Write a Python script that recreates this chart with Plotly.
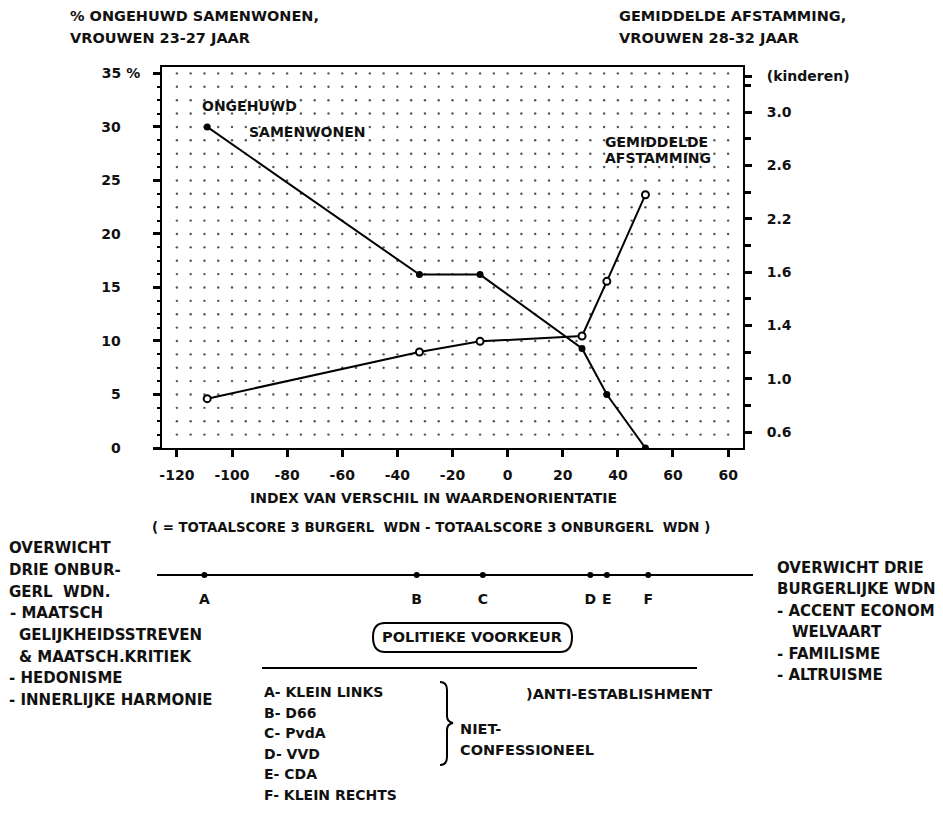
import numpy as np
import plotly.graph_objects as go

# ---------------- data ----------------
x_index = [-109, -32, -10, 27, 36, 50]                 # index van verschil in waardenorientatie
ongehuwd_pct = [30.0, 16.2, 16.2, 9.3, 5.0, 0.0]       # % ongehuwd samenwonen, vrouwen 23-27
afstamming_kind = [0.85, 1.20, 1.28, 1.32, 1.73, 2.38]  # gemiddelde afstamming (kinderen), vrouwen 28-32

party_letters = ["A", "B", "C", "D", "E", "F"]
party_x = [-110, -33, -9, 30, 36, 51]

x_tickvals = [-120, -100, -80, -60, -40, -20, 0, 20, 40, 60, 80]
x_ticktext = ["-120", "-100", "-80", "-60", "-40", "-20", "0", "20", "40", "60", "60"]
left_tickvals = [0, 5, 10, 15, 20, 25, 30, 35]
left_ticktext = ["0", "5", "10", "15", "20", "25", "30", "35 %"]
right_tickvals = [0.6, 1.0, 1.4, 1.8, 2.2, 2.6, 3.0, 3.27]
right_ticktext = ["0.6", "1.0", "1.4", "1.6", "2.2", "2.6", "3.0", "(kinderen)"]

left_block = ["OVERWICHT", "DRIE ONBUR-", "GERL  WDN.", "- MAATSCH", "GELIJKHEIDSSTREVEN",
              "& MAATSCH.KRITIEK", "- HEDONISME", "- INNERLIJKE HARMONIE"]
right_block = ["OVERWICHT DRIE", "BURGERLIJKE WDN", "- ACCENT ECONOM", "WELVAART",
               "- FAMILISME", "- ALTRUISME"]
party_legend = ["A- KLEIN LINKS", "B- D66", "C- PvdA", "D- VVD", "E- CDA", "F- KLEIN RECHTS"]

# ---------------- geometry helpers (page pixel coordinates) ----------------
OFF = 8                      # page body margin
W, H = 943 - 2 * OFF, 813 - 2 * OFF
L, R, T, B = 162, 743, 67, 448
PB = 613                     # page y of paper bottom
def px(x):
    return (x - L) / (R - L)
def py(y):
    return (PB - y) / (PB - T)

FS = dict(family="DejaVu Sans", color="#111", weight="bold")
INK = "#000"

fig = go.Figure()

# dotted background grid
gx, gy = np.meshgrid(np.arange(-120, 81, 5), np.arange(1.25, 35.01, 1.25))
fig.add_trace(go.Scatter(x=gx.ravel(), y=gy.ravel(), mode="markers",
                         marker=dict(size=2.4, color="#555"), hoverinfo="skip",
                         showlegend=False))

fig.add_trace(go.Scatter(x=x_index, y=ongehuwd_pct, mode="lines+markers",
                         line=dict(color=INK, width=2),
                         marker=dict(size=7, color=INK),
                         name="Ongehuwd samenwonen", showlegend=False))
fig.add_trace(go.Scatter(x=x_index, y=afstamming_kind, yaxis="y2", mode="lines+markers",
                         line=dict(color=INK, width=2),
                         marker=dict(size=7, color="white", line=dict(color=INK, width=2)),
                         name="Gemiddelde afstamming", showlegend=False))

# party axis
fig.add_trace(go.Scatter(x=party_x, y=[0] * len(party_x), yaxis="y3", mode="markers",
                         marker=dict(size=6, color=INK), showlegend=False, hoverinfo="skip"))
fig.add_trace(go.Scatter(x=party_x, y=[-0.72] * len(party_x), yaxis="y3", mode="text",
                         text=party_letters, textfont=dict(size=14, **FS),
                         showlegend=False, hoverinfo="skip"))

axis_common = dict(showgrid=False, zeroline=False, showline=True, linecolor=INK,
                   linewidth=2, ticks="outside", tickcolor=INK, tickwidth=3, ticklen=7)

fig.update_layout(
    width=W, height=H,
    margin=dict(l=L - OFF, r=W - (R - OFF), t=T - OFF, b=H - (PB - OFF)),
    paper_bgcolor="white", plot_bgcolor="white",
    font=dict(size=14, **FS),
    xaxis=dict(range=[-125.4, 85.4], tickmode="array", tickvals=x_tickvals,
               ticktext=x_ticktext, mirror=True, anchor="y", ticklabelstandoff=6,
               tickfont=dict(size=14, **FS), **axis_common),
    yaxis=dict(domain=[py(B), 1], range=[0, 35.6], tickmode="array",
               tickvals=left_tickvals,
               ticktext=[t if "%" in t else t + "\u2007\u2007" for t in left_ticktext],
               ticklabelstandoff=10, tickfont=dict(size=14, **FS),
               minor=dict(tickmode="linear", tick0=0, dtick=1.25, ticks="outside",
                          ticklen=3, tickwidth=2, tickcolor=INK),
               **axis_common),
    yaxis2=dict(overlaying="y", side="right", range=[0.48, 3.338], tickmode="array",
                tickvals=right_tickvals, ticktext=right_ticktext, ticklabelstandoff=12,
                tickfont=dict(size=14, **FS),
                minor=dict(tickmode="linear", tick0=0.6, dtick=0.2, ticks="outside",
                           ticklen=6, tickwidth=3, tickcolor=INK),
                **axis_common),
    yaxis3=dict(domain=[py(610), py(540)], range=[-1, 1], visible=False, anchor="x"),
)

# ---------------- shapes ----------------
def P(x, y):
    return f"{px(x):.5f},{py(y):.5f}"

shapes = [
    dict(type="line", xref="paper", yref="paper", x0=px(157), x1=px(753), y0=py(575), y1=py(575),
         line=dict(color=INK, width=2)),
    dict(type="line", xref="paper", yref="paper", x0=px(262), x1=px(697), y0=py(668), y1=py(668),
         line=dict(color=INK, width=2)),
    dict(type="path", xref="paper", yref="paper",
         path=("M " + P(385, 623) + " L " + P(560, 623) + " Q " + P(572, 623) + " " + P(572, 637)
               + " Q " + P(572, 652) + " " + P(560, 652) + " L " + P(385, 652)
               + " Q " + P(373, 652) + " " + P(373, 637) + " Q " + P(373, 623) + " " + P(385, 623) + " Z"),
         line=dict(color=INK, width=2)),
    dict(type="path", xref="paper", yref="paper",
         path=("M " + P(440, 682) + " Q " + P(447, 682) + " " + P(447, 690) + " L " + P(447, 716)
               + " Q " + P(447, 722) + " " + P(453, 723) + " Q " + P(447, 724) + " " + P(447, 730)
               + " L " + P(447, 757) + " Q " + P(447, 765) + " " + P(440, 765)),
         line=dict(color=INK, width=2)),
]
fig.update_layout(shapes=shapes)

# ---------------- annotations ----------------
ann = []
def text(s, x, y, size=14, xanchor="left"):
    ann.append(dict(text=s, x=px(x), y=py(y), xref="paper", yref="paper",
                    xanchor=xanchor, yanchor="middle", showarrow=False,
                    font=dict(size=size, **FS)))

text("% ONGEHUWD SAMENWONEN,", 68, 16, 14.5)
text("VROUWEN 23-27 JAAR", 68, 38, 14.5)
text("GEMIDDELDE AFSTAMMING,", 617, 16, 14.5)
text("VROUWEN 28-32 JAAR", 617, 38, 14.5)

text("ONGEHUWD", 200, 106, 14)
text("SAMENWONEN", 247, 132, 14)
text("GEMIDDELDE", 603, 142, 14)
text("AFSTAMMING", 603, 158, 14)

text("INDEX VAN VERSCHIL IN WAARDENORIENTATIE", 433, 498, 14, "center")
text("( = TOTAALSCORE 3 BURGERL\u00a0 WDN - TOTAALSCORE 3 ONBURGERL\u00a0 WDN )", 431, 527, 13.3, "center")

left_x = [7, 7, 7, 8, 17, 17, 7, 7]
left_y = [548, 570, 592, 613, 635, 657, 678, 700]
for s, x, y in zip(left_block, left_x, left_y):
    text(s, x, y, 15)

right_x = [775, 775, 775, 790, 775, 775]
right_y = [568, 589, 611, 632, 654, 675]
for s, x, y in zip(right_block, right_x, right_y):
    text(s, x, y, 15)

for i, s in enumerate(party_legend):
    text(s, 262, 692 + 20.6 * i, 14)

text("POLITIEKE VOORKEUR", 472, 637, 14.5, "center")
text("NIET-", 458, 729, 14.5)
text("CONFESSIONEEL", 458, 750, 14.5)
text(")ANTI-ESTABLISHMENT", 524, 694, 14.5)

fig.update_layout(annotations=ann)

fig.write_html("out.html")
